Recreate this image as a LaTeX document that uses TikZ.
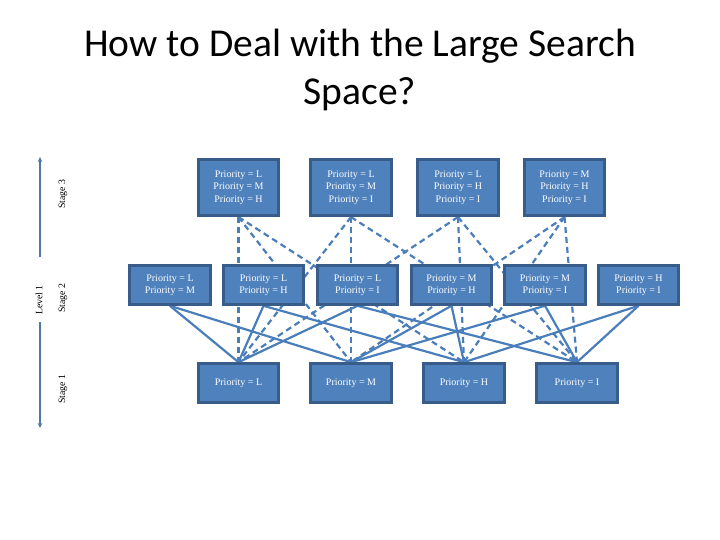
\documentclass[tikz,border=0pt]{standalone}
\usepackage{fontspec}
\setmainfont{Liberation Serif}
\newfontfamily\titlefont{Carlito}
\usetikzlibrary{arrows.meta,backgrounds}
\definecolor{boxfill}{HTML}{4F81BD}
\definecolor{boxedge}{HTML}{385D8A}
\definecolor{linkblue}{HTML}{4A7EBB}
\definecolor{axisblue}{HTML}{5077A8}
\begin{document}
\begin{tikzpicture}[x=1pt,y=-1pt,
  pbox/.style={draw=boxedge,fill=boxfill,line width=2.6pt,text=white,
    font=\fontsize{10}{12.3}\selectfont,align=center,inner sep=0pt,
    minimum width=80.5pt},
  tall/.style={pbox,minimum height=56.5pt},
  short/.style={pbox,minimum height=39pt},
  solidlink/.style={draw=linkblue,line width=2.2pt},
  dashlink/.style={draw=linkblue,line width=2.2pt,dash pattern=on 6pt off 4pt},
  axis/.style={draw=axisblue,line width=2pt},
  sidelabel/.style={font=\fontsize{9.8}{11}\selectfont,rotate=90,inner sep=0pt}]
\useasboundingbox (0,0) rectangle (720,540);

% title
\node[font=\titlefont\fontsize{39.5}{48}\selectfont,align=center] (title) at (360,70)
  {How to Deal with the Large Search\\Space?};

% stage 3
\node[tall] (lmh) at (238.5,187.5) {Priority = L\\Priority = M\\Priority = H};
\node[tall] (lmi) at (351,187.5) {Priority = L\\Priority = M\\Priority = I};
\node[tall] (lhi) at (458,187.5) {Priority = L\\Priority = H\\Priority = I};
\node[tall] (mhi) at (564.5,187.5) {Priority = M\\Priority = H\\Priority = I};

% stage 2
\node[short] (lm) at (170,285) {Priority = L\\Priority = M};
\node[short] (lh) at (263.5,285) {Priority = L\\Priority = H};
\node[short] (li) at (357.5,285) {Priority = L\\Priority = I};
\node[short] (mh) at (451.5,285) {Priority = M\\Priority = H};
\node[short] (mi) at (545,285) {Priority = M\\Priority = I};
\node[short] (hi) at (638.5,285) {Priority = H\\Priority = I};

% stage 1
\node[short] (l) at (238.5,383) {Priority = L};
\node[short] (m) at (351,383) {Priority = M};
\node[short] (h) at (464,383) {Priority = H};
\node[short] (i) at (577,383) {Priority = I};

\begin{pgfonlayer}{background}
% dashed: stage 3 to stage 1
\draw[dashlink] (lmh.south) -- (l.north);
\draw[dashlink] (lmh.south) -- (m.north);
\draw[dashlink] (lmh.south) -- (h.north);
\draw[dashlink] (lmi.south) -- (l.north);
\draw[dashlink] (lmi.south) -- (m.north);
\draw[dashlink] (lmi.south) -- (i.north);
\draw[dashlink] (lhi.south) -- (l.north);
\draw[dashlink] (lhi.south) -- (h.north);
\draw[dashlink] (lhi.south) -- (i.north);
\draw[dashlink] (mhi.south) -- (m.north);
\draw[dashlink] (mhi.south) -- (h.north);
\draw[dashlink] (mhi.south) -- (i.north);
% solid: stage 2 to stage 1
\draw[solidlink] (lm.south) -- (l.north);
\draw[solidlink] (lm.south) -- (m.north);
\draw[solidlink] (lh.south) -- (l.north);
\draw[solidlink] (lh.south) -- (h.north);
\draw[solidlink] (li.south) -- (l.north);
\draw[solidlink] (li.south) -- (i.north);
\draw[solidlink] (mh.south) -- (m.north);
\draw[solidlink] (mh.south) -- (h.north);
\draw[solidlink] (mi.south) -- (m.north);
\draw[solidlink] (mi.south) -- (i.north);
\draw[solidlink] (hi.south) -- (h.north);
\draw[solidlink] (hi.south) -- (i.north);
\end{pgfonlayer}

% left axis
\node[sidelabel] (lvl) at (39,300) {Level 1};
\coordinate (axtop) at (40,157);
\coordinate (axbot) at (40,428);
\draw[axis,-{Stealth[length=5pt,width=4.5pt]}] (40,257) -- (axtop);
\draw[axis,-{Stealth[length=5pt,width=4.5pt]}] (40,322) -- (axbot);

\node[sidelabel] (s3) at (63,194) {Stage 3};
\node[sidelabel] (s2) at (63,298) {Stage 2};
\node[sidelabel] (s1) at (63,389) {Stage 1};
\end{tikzpicture}
\end{document}
